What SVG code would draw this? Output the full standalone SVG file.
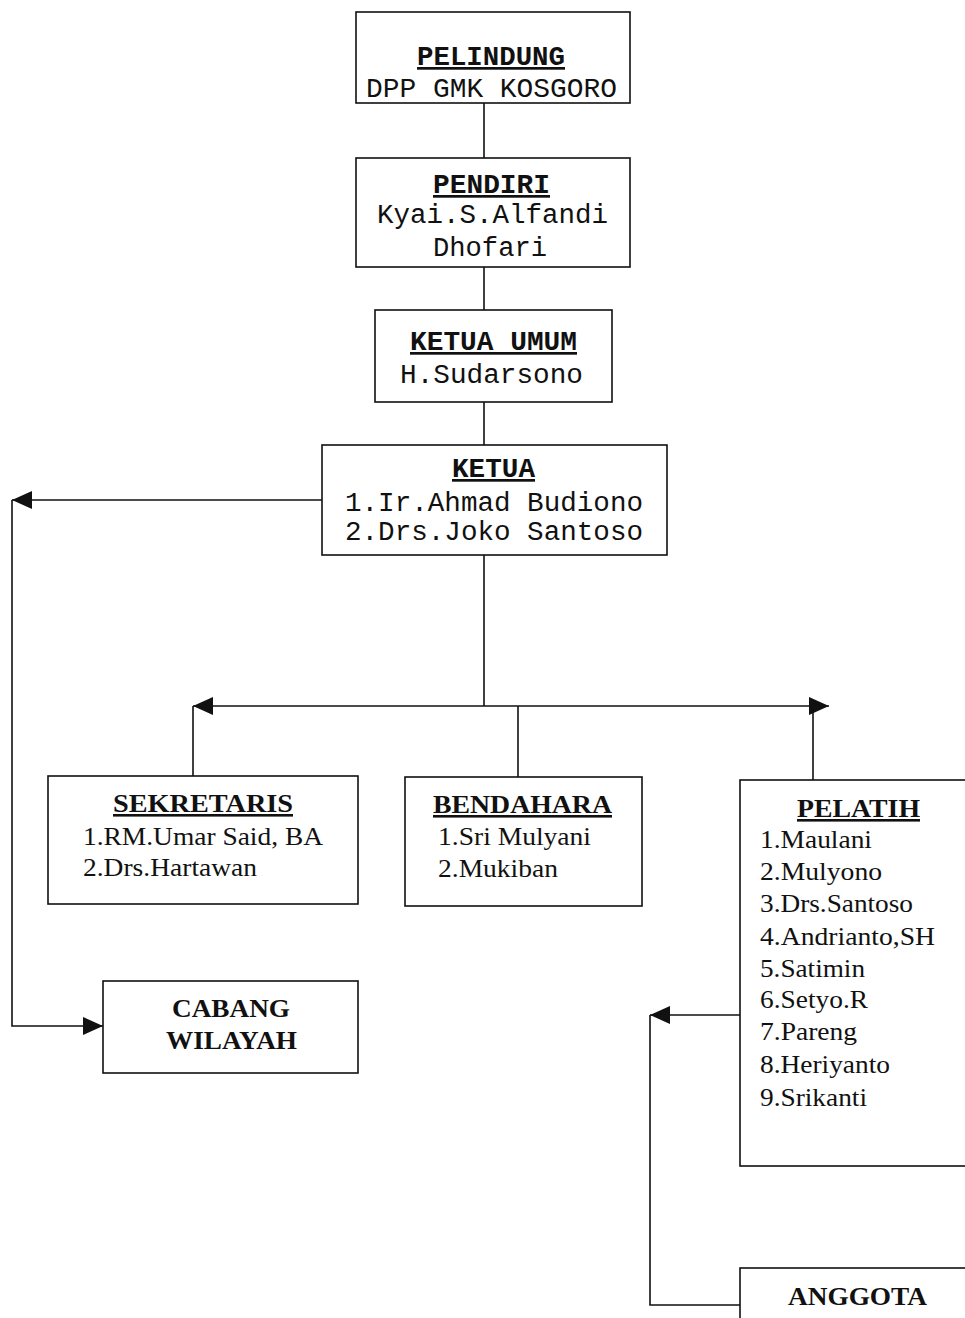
<svg xmlns="http://www.w3.org/2000/svg" width="965" height="1318" viewBox="0 0 965 1318">
<style>
.box{fill:#fff;stroke:#111;stroke-width:1.6}
.mono{font-family:"Liberation Mono","DejaVu Sans Mono",monospace;font-size:27px;fill:#111}
.serif{font-family:"Liberation Serif","DejaVu Serif",serif;font-size:26px;fill:#111}
.b{font-weight:bold}
.u{text-decoration:underline}
.conn path{fill:none;stroke:#111;stroke-width:1.6}
</style>
<defs>
<marker id="ah" markerUnits="userSpaceOnUse" markerWidth="20" markerHeight="18" viewBox="0 0 20 18" refX="20" refY="9" orient="auto">
<path d="M0,0 L20,9 L0,18 z" fill="#111"/>
</marker>
</defs>
<rect width="965" height="1318" fill="#fff"/>
<g class="conn" id="connectors">
<path d="M484,103 V158"/>
<path d="M484,267 V310"/>
<path d="M484,402 V445"/>
<path d="M484,555 V706"/>
<path d="M484,706 H193" marker-end="url(#ah)"/>
<path d="M484,706 H829" marker-end="url(#ah)"/>
<path d="M193,706 V776"/>
<path d="M518,706 V777"/>
<path d="M813,706 V780"/>
<path d="M322,500 H12" marker-end="url(#ah)"/>
<path d="M12,500 V1026 H103" marker-end="url(#ah)"/>
<path d="M740,1015 H650" marker-end="url(#ah)"/>
<path d="M650,1015 V1305 H740"/>
</g>
<g id="pelindung">
<rect class="box" x="356" y="12" width="274" height="91"/>
<text class="mono b u" x="417" y="65" textLength="148" lengthAdjust="spacingAndGlyphs">PELINDUNG</text>
<text class="mono" x="366" y="97" textLength="251" lengthAdjust="spacingAndGlyphs">DPP GMK KOSGORO</text>
</g>
<g id="pendiri">
<rect class="box" x="356" y="158" width="274" height="109"/>
<text class="mono b u" x="433" y="193" textLength="117" lengthAdjust="spacingAndGlyphs">PENDIRI</text>
<text class="mono" x="377" y="223" textLength="231" lengthAdjust="spacingAndGlyphs">Kyai.S.Alfandi</text>
<text class="mono" x="433" y="256" textLength="114" lengthAdjust="spacingAndGlyphs">Dhofari</text>
</g>
<g id="ketua-umum">
<rect class="box" x="375" y="310" width="237" height="92"/>
<text class="mono b u" x="410" y="350" textLength="167" lengthAdjust="spacingAndGlyphs">KETUA UMUM</text>
<text class="mono" x="400" y="383" textLength="183" lengthAdjust="spacingAndGlyphs">H.Sudarsono</text>
</g>
<g id="ketua">
<rect class="box" x="322" y="445" width="345" height="110"/>
<text class="mono b u" x="452" y="477" textLength="83" lengthAdjust="spacingAndGlyphs">KETUA</text>
<text class="mono" x="345" y="511" textLength="298" lengthAdjust="spacingAndGlyphs">1.Ir.Ahmad Budiono</text>
<text class="mono" x="345" y="540" textLength="298" lengthAdjust="spacingAndGlyphs">2.Drs.Joko Santoso</text>
</g>
<g id="sekretaris">
<rect class="box" x="48" y="776" width="310" height="128"/>
<text class="serif b u" x="113" y="812" textLength="180" lengthAdjust="spacingAndGlyphs">SEKRETARIS</text>
<text class="serif" x="83" y="845" textLength="240" lengthAdjust="spacingAndGlyphs">1.RM.Umar Said, BA</text>
<text class="serif" x="83" y="876" textLength="174" lengthAdjust="spacingAndGlyphs">2.Drs.Hartawan</text>
</g>
<g id="bendahara">
<rect class="box" x="405" y="777" width="237" height="129"/>
<text class="serif b u" x="433" y="813" textLength="179" lengthAdjust="spacingAndGlyphs">BENDAHARA</text>
<text class="serif" x="438" y="845" textLength="153" lengthAdjust="spacingAndGlyphs">1.Sri Mulyani</text>
<text class="serif" x="438" y="877" textLength="120" lengthAdjust="spacingAndGlyphs">2.Mukiban</text>
</g>
<g id="pelatih">
<rect class="box" x="740" y="780" width="240" height="386"/>
<text class="serif b u" x="797" y="817" textLength="123" lengthAdjust="spacingAndGlyphs">PELATIH</text>
<text class="serif" x="760" y="848" textLength="112" lengthAdjust="spacingAndGlyphs">1.Maulani</text>
<text class="serif" x="760" y="880" textLength="122" lengthAdjust="spacingAndGlyphs">2.Mulyono</text>
<text class="serif" x="760" y="912" textLength="153" lengthAdjust="spacingAndGlyphs">3.Drs.Santoso</text>
<text class="serif" x="760" y="945" textLength="175" lengthAdjust="spacingAndGlyphs">4.Andrianto,SH</text>
<text class="serif" x="760" y="977" textLength="105" lengthAdjust="spacingAndGlyphs">5.Satimin</text>
<text class="serif" x="760" y="1008" textLength="108" lengthAdjust="spacingAndGlyphs">6.Setyo.R</text>
<text class="serif" x="760" y="1040" textLength="97" lengthAdjust="spacingAndGlyphs">7.Pareng</text>
<text class="serif" x="760" y="1073" textLength="130" lengthAdjust="spacingAndGlyphs">8.Heriyanto</text>
<text class="serif" x="760" y="1106" textLength="107" lengthAdjust="spacingAndGlyphs">9.Srikanti</text>
</g>
<g id="cabang-wilayah">
<rect class="box" x="103" y="981" width="255" height="92"/>
<text class="serif b" x="172" y="1017" textLength="118" lengthAdjust="spacingAndGlyphs">CABANG</text>
<text class="serif b" x="166" y="1049" textLength="131" lengthAdjust="spacingAndGlyphs">WILAYAH</text>
</g>
<g id="anggota">
<rect class="box" x="740" y="1268" width="240" height="60"/>
<text class="serif b" x="788" y="1305" textLength="139" lengthAdjust="spacingAndGlyphs">ANGGOTA</text>
</g>
</svg>
